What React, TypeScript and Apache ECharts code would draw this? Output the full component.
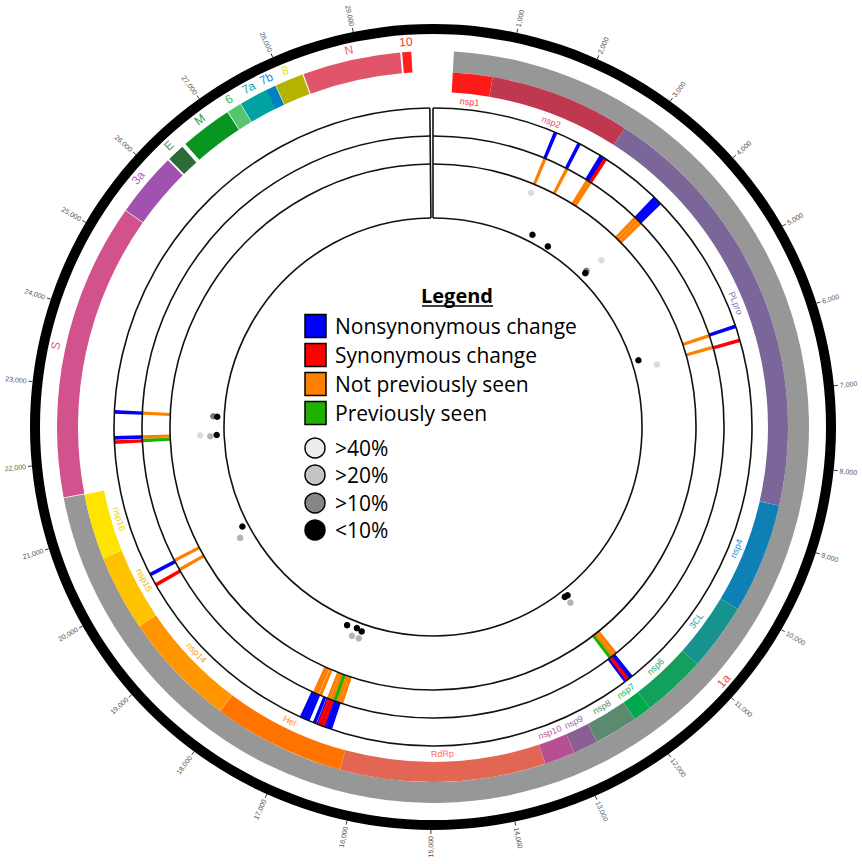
import React, { useEffect, useRef } from "react";
import * as echarts from "echarts";

// ---------------- data ----------------
const AXIS_MAX = 29950; // angular scale of the genome (bp per full turn)
const GENOME_END = 29903;

const tickValues = [
  1000, 2000, 3000, 4000, 5000, 6000, 7000, 8000, 9000, 10000, 11000, 12000, 13000, 14000, 15000,
  16000, 17000, 18000, 19000, 20000, 21000, 22000, 23000, 24000, 25000, 26000, 27000, 28000, 29000,
];
const tickLabels = tickValues.map((v) => v.toLocaleString("en-US"));

const polyName = "1a";
const polyStart = 266;
const polyEnd = 21555;

const nspNames = ["nsp1", "nsp2", "PLpro", "nsp4", "3CL", "nsp6", "nsp7", "nsp8", "nsp9", "nsp10", "RdRp", "Hel", "nsp14", "nsp15", "nsp16"];
const nspStarts = [266, 806, 2720, 8555, 10055, 10973, 11843, 12092, 12686, 13025, 13442, 16237, 18040, 19621, 20659];
const nspEnds = [805, 2719, 8554, 10054, 10972, 11842, 12091, 12685, 13024, 13441, 16236, 18039, 19620, 20658, 21552];

const structNames = ["S", "3a", "E", "M", "6", "7a", "7b", "8", "N", "10"];
const structStarts = [21563, 25393, 26245, 26523, 27202, 27394, 27756, 27894, 28274, 29558];
const structEnds = [25384, 26220, 26472, 27191, 27387, 27759, 27887, 28259, 29533, 29674];

// mutation track (outer): nonsynonymous / synonymous
const nonsynPos = [1880, 2270, 2650, 2690, 3670, 3720, 3770, 5955, 11780, 11830, 11880, 16540, 16580, 16630, 16680, 16730, 16790, 16900, 16950, 17000, 20170, 22300, 22690];
const synPos = [2725, 6175, 11845, 16655, 16715, 19995, 22235];
// novelty track (middle): not previously seen / previously seen
const novelPos = [1885, 2280, 2670, 2720, 3665, 3720, 3780, 5965, 6165, 11740, 11795, 16500, 16555, 16610, 16670, 16725, 16870, 16930, 16975, 20020, 20190, 22300, 22690];
const seenPos = [11850, 16615, 22240];

// variant frequency dots (inner track)
const dotPos = [1890, 2275, 2700, 3720, 3700, 3765, 5990, 6190, 11760, 11810, 11830, 16925, 16700, 16575, 16740, 16585, 20170, 19975, 22695, 22690, 22290, 22265, 22285];
const dotFreq = [84, 9, 4, 9, 14, 50, 8, 41, 7, 22, 6, 8, 6, 9, 24, 24, 6, 21, 16, 8, 42, 22, 9];

const legendLabels = ["Nonsynonymous change", "Synonymous change", "Not previously seen", "Previously seen"];
const freqLabels = [">40%", ">20%", ">10%", "<10%"];

// ---------------- styles / layout ----------------
const CENTER = [433, 427];
const R_RING_IN = 393;
const R_RING_OUT = 403;
const R_TICK_OUT = 407;
const R_TICK_LAB = 409;
const R_OUTER_IN = 355;
const R_OUTER_OUT = 376;
const R_INNER_IN = 335;
const R_NSP_LAB = 327;
const R_STRUCT_LAB = 386;
const TRACK_RADII = [319, 291, 263, 209];
const MUT_HALF = 28; // half width of a mutation mark (bp)

const polyColor = "#979797";
const polyLabelColor = "#ea5050";
const nspColors = ["#ff1a1a", "#c0384f", "#7a6698", "#0f80b6", "#17938f", "#12a05c", "#00a84c", "#5c8a6e", "#8b5e94", "#b84f93", "#e36553", "#ff7400", "#ff9600", "#ffc200", "#ffe400"];
const nspLabelColors = ["#ff3030", "#e05570", "#8a78b8", "#2090d0", "#20a0a0", "#20a868", "#10b050", "#5c8a6e", "#a060a8", "#c050a0", "#ff7060", "#ff8a40", "#ffa020", "#f0b800", "#f0d000"];
const structColors = ["#d1528c", "#a152b0", "#2d6b3a", "#08951f", "#55c56e", "#00a3a2", "#0081c0", "#b4b400", "#e0556a", "#ff1f1f"];
const structLabelColors = ["#d85a98", "#b060c0", "#5a8a6a", "#20a040", "#30c060", "#10a8a8", "#1090d0", "#e8e800", "#e8607a", "#ff3030"];
const legendColors = ["#0000ff", "#ff0000", "#ff8000", "#22b000"];
const dotColors = ["#dcdcdc", "#b4b4b4", "#7c7c7c", "#000000"];
const legendDotColors = ["#ececec", "#c4c4c4", "#868686", "#000000"];

const freqClass = (f: number) => (f > 40 ? 0 : f > 20 ? 1 : f > 10 ? 2 : 3);

// ---------------- geometry helpers (through the polar coordinate system) ----------------
function geo(params: any, api: any) {
  const cx = params.coordSys.cx;
  const cy = params.coordSys.cy;
  const ang = (v: number) => {
    const p = api.coord([100, v]);
    return Math.atan2(p[1] - cy, p[0] - cx);
  };
  const rad = (r: number) => {
    const p = api.coord([r, 0]);
    return Math.hypot(p[0] - cx, p[1] - cy);
  };
  const pt = (r: number, v: number) => api.coord([r, v]);
  const sector = (r0: number, r1: number, v0: number, v1: number, fill: string) => {
    const s = ang(v0);
    let e = ang(v1);
    while (e <= s) e += Math.PI * 2;
    return {
      type: "sector",
      shape: { cx, cy, r0: rad(r0), r: rad(r1), startAngle: s, endAngle: e, clockwise: true },
      style: { fill },
    };
  };
  const clockAngle = (v: number) => {
    let th = ang(v) + Math.PI / 2;
    while (th < 0) th += Math.PI * 2;
    while (th >= Math.PI * 2) th -= Math.PI * 2;
    return th;
  };
  const tangentRot = (v: number) => {
    const th = clockAngle(v);
    if (th > Math.PI / 2 && th < (3 * Math.PI) / 2) return Math.PI - th;
    return -th;
  };
  const label = (r: number, v: number, text: string, fill: string, size: number) => {
    const p = pt(r, v);
    return {
      type: "text",
      x: p[0],
      y: p[1],
      rotation: tangentRot(v),
      style: {
        text,
        fill,
        font: `${size}px "Liberation Sans", Arial, sans-serif`,
        align: "center",
        verticalAlign: "middle",
        textAlign: "center",
        textVerticalAlign: "middle",
      },
    };
  };
  return { cx, cy, ang, rad, pt, sector, clockAngle, label };
}

function buildOption() {
  const series: any[] = [];

  // black outer ring
  series.push({
    type: "custom",
    coordinateSystem: "polar",
    polarIndex: 0,
    silent: true,
    data: [[0]],
    renderItem: (params: any, api: any) => {
      const g = geo(params, api);
      return {
        type: "ring",
        shape: { cx: g.cx, cy: g.cy, r0: g.rad(R_RING_IN), r: g.rad(R_RING_OUT) },
        style: { fill: "#000" },
      };
    },
  });

  // ticks + tick labels
  series.push({
    type: "custom",
    coordinateSystem: "polar",
    polarIndex: 0,
    silent: true,
    data: tickValues.map((v) => [v]),
    renderItem: (params: any, api: any) => {
      const g = geo(params, api);
      const v = api.value(0);
      const a = g.pt(R_RING_OUT, v);
      const b = g.pt(R_TICK_OUT, v);
      const c = g.pt(R_TICK_LAB, v);
      const th = g.clockAngle(v);
      const right = th <= Math.PI;
      const rot = right ? Math.PI / 2 - th : (3 * Math.PI) / 2 - th;
      return {
        type: "group",
        children: [
          { type: "line", shape: { x1: a[0], y1: a[1], x2: b[0], y2: b[1] }, style: { stroke: "#333", lineWidth: 1 } },
          {
            type: "text",
            x: c[0],
            y: c[1],
            rotation: rot,
            style: {
              text: tickLabels[params.dataIndex],
              fill: "#555",
              font: '7px "Liberation Sans", Arial, sans-serif',
              align: right ? "left" : "right",
              textAlign: right ? "left" : "right",
              verticalAlign: "middle",
              textVerticalAlign: "middle",
            },
          },
        ],
      };
    },
  });

  // polyprotein band (grey)
  series.push({
    type: "custom",
    coordinateSystem: "polar",
    polarIndex: 0,
    silent: true,
    data: [[polyStart, polyEnd]],
    renderItem: (params: any, api: any) => {
      const g = geo(params, api);
      const s = api.value(0);
      const e = api.value(1);
      return {
        type: "group",
        children: [
          g.sector(R_OUTER_IN, R_OUTER_OUT, s, e, polyColor),
          g.label(R_STRUCT_LAB, (s + e) / 2, polyName, polyLabelColor, 12),
        ],
      };
    },
  });

  // nsp bands
  series.push({
    type: "custom",
    coordinateSystem: "polar",
    polarIndex: 0,
    silent: true,
    data: nspStarts.map((s, i) => [s, nspEnds[i]]),
    renderItem: (params: any, api: any) => {
      const g = geo(params, api);
      const s = api.value(0);
      const e = api.value(1);
      const i = params.dataIndex;
      return {
        type: "group",
        children: [
          g.sector(R_INNER_IN, R_OUTER_IN, s, e, nspColors[i]),
          g.label(R_NSP_LAB, (s + e) / 2, nspNames[i], nspLabelColors[i], 9),
        ],
      };
    },
  });

  // structural / accessory gene bands
  series.push({
    type: "custom",
    coordinateSystem: "polar",
    polarIndex: 0,
    silent: true,
    data: structStarts.map((s, i) => [s, structEnds[i]]),
    renderItem: (params: any, api: any) => {
      const g = geo(params, api);
      const s = api.value(0);
      const e = api.value(1);
      const i = params.dataIndex;
      return {
        type: "group",
        children: [
          g.sector(R_OUTER_IN, R_OUTER_OUT, s, e, structColors[i]),
          g.label(R_STRUCT_LAB, (s + e) / 2, structNames[i], structLabelColors[i], 12),
        ],
      };
    },
  });

  // mutation marks
  const markSeries = (positions: number[], r0: number, r1: number, color: string) => ({
    type: "custom",
    coordinateSystem: "polar",
    polarIndex: 0,
    silent: true,
    data: positions.map((p) => [p]),
    renderItem: (params: any, api: any) => {
      const g = geo(params, api);
      const p = api.value(0);
      return g.sector(r0, r1, p - MUT_HALF, p + MUT_HALF, color);
    },
  });
  series.push(markSeries(nonsynPos, TRACK_RADII[1], TRACK_RADII[0], legendColors[0]));
  series.push(markSeries(synPos, TRACK_RADII[1], TRACK_RADII[0], legendColors[1]));
  series.push(markSeries(novelPos, TRACK_RADII[2], TRACK_RADII[1], legendColors[2]));
  series.push(markSeries(seenPos, TRACK_RADII[2], TRACK_RADII[1], legendColors[3]));

  // track frame: circles + end lines
  series.push({
    type: "custom",
    coordinateSystem: "polar",
    polarIndex: 0,
    silent: true,
    z: 5,
    data: [[0, GENOME_END]],
    renderItem: (params: any, api: any) => {
      const g = geo(params, api);
      const s = api.value(0);
      const e = api.value(1);
      const sa = g.ang(s);
      let ea = g.ang(e);
      while (ea <= sa) ea += Math.PI * 2;
      const children: any[] = TRACK_RADII.map((r) => ({
        type: "arc",
        shape: { cx: g.cx, cy: g.cy, r: g.rad(r), startAngle: sa, endAngle: ea, clockwise: true },
        style: { stroke: "#111", lineWidth: 1.6, fill: "none" },
      }));
      [s, e].forEach((v) => {
        const a = g.pt(TRACK_RADII[0], v);
        const b = g.pt(TRACK_RADII[3], v);
        children.push({
          type: "line",
          shape: { x1: a[0], y1: a[1], x2: b[0], y2: b[1] },
          style: { stroke: "#111", lineWidth: 1.6 },
        });
      });
      return { type: "group", children };
    },
  });

  // frequency dots
  for (let cls = 0; cls < 4; cls++) {
    const data: number[][] = [];
    dotPos.forEach((p, i) => {
      if (freqClass(dotFreq[i]) === cls) data.push([dotFreq[i], p]);
    });
    series.push({
      type: "scatter",
      coordinateSystem: "polar",
      polarIndex: 1,
      silent: true,
      symbol: "circle",
      symbolSize: 6.5,
      itemStyle: { color: dotColors[cls], opacity: 1 },
      z: 6,
      data,
    });
  }

  // legend (graphic)
  const lf = '"Open Sans", "Liberation Sans", Arial, sans-serif';
  const elements: any[] = [
    {
      type: "text",
      x: 457,
      y: 295,
      style: {
        text: "Legend",
        font: `bold 20px ${lf}`,
        fill: "#000",
        align: "center",
        textAlign: "center",
        verticalAlign: "middle",
        textVerticalAlign: "middle",
      },
    },
    { type: "line", shape: { x1: 422, y1: 306, x2: 493, y2: 306 }, style: { stroke: "#000", lineWidth: 1.5 } },
  ];
  const sqY = [326, 355, 384, 413];
  legendLabels.forEach((t, i) => {
    elements.push({
      type: "rect",
      shape: { x: 305, y: sqY[i] - 11.5, width: 21, height: 23 },
      style: { fill: legendColors[i], stroke: "#000", lineWidth: 1.5 },
    });
    elements.push({
      type: "text",
      x: 335,
      y: sqY[i],
      style: { text: t, font: `21px ${lf}`, fill: "#000", verticalAlign: "middle", textVerticalAlign: "middle" },
    });
  });
  const ciY = [448, 475, 503, 530];
  freqLabels.forEach((t, i) => {
    elements.push({
      type: "circle",
      shape: { cx: 315, cy: ciY[i], r: 10 },
      style: { fill: legendDotColors[i], stroke: "#000", lineWidth: 1.5 },
    });
    elements.push({
      type: "text",
      x: 335,
      y: ciY[i],
      style: { text: t, font: `21px ${lf}`, fill: "#000", verticalAlign: "middle", textVerticalAlign: "middle" },
    });
  });

  return {
    animation: false,
    backgroundColor: "#ffffff",
    polar: [
      { center: CENTER, radius: R_RING_OUT },
      { center: CENTER, radius: [212, 262] },
    ],
    angleAxis: [
      { polarIndex: 0, type: "value", min: 0, max: AXIS_MAX, startAngle: 90, clockwise: true, show: false },
      { polarIndex: 1, type: "value", min: 0, max: AXIS_MAX, startAngle: 90, clockwise: true, show: false },
    ],
    radiusAxis: [
      { polarIndex: 0, type: "value", min: 0, max: R_RING_OUT, show: false },
      { polarIndex: 1, type: "value", min: 0, max: 100, show: false },
    ],
    series,
    graphic: { elements },
  };
}

export default function App() {
  const ref = useRef<HTMLDivElement>(null);
  useEffect(() => {
    if (!ref.current) return;
    const chart = echarts.init(ref.current, undefined, { renderer: "svg" });
    chart.setOption(buildOption() as any);
    return () => chart.dispose();
  }, []);
  return (
    <div
      ref={ref}
      style={{ position: "absolute", left: 0, top: 0, width: 862, height: 864, background: "#fff" }}
    />
  );
}
